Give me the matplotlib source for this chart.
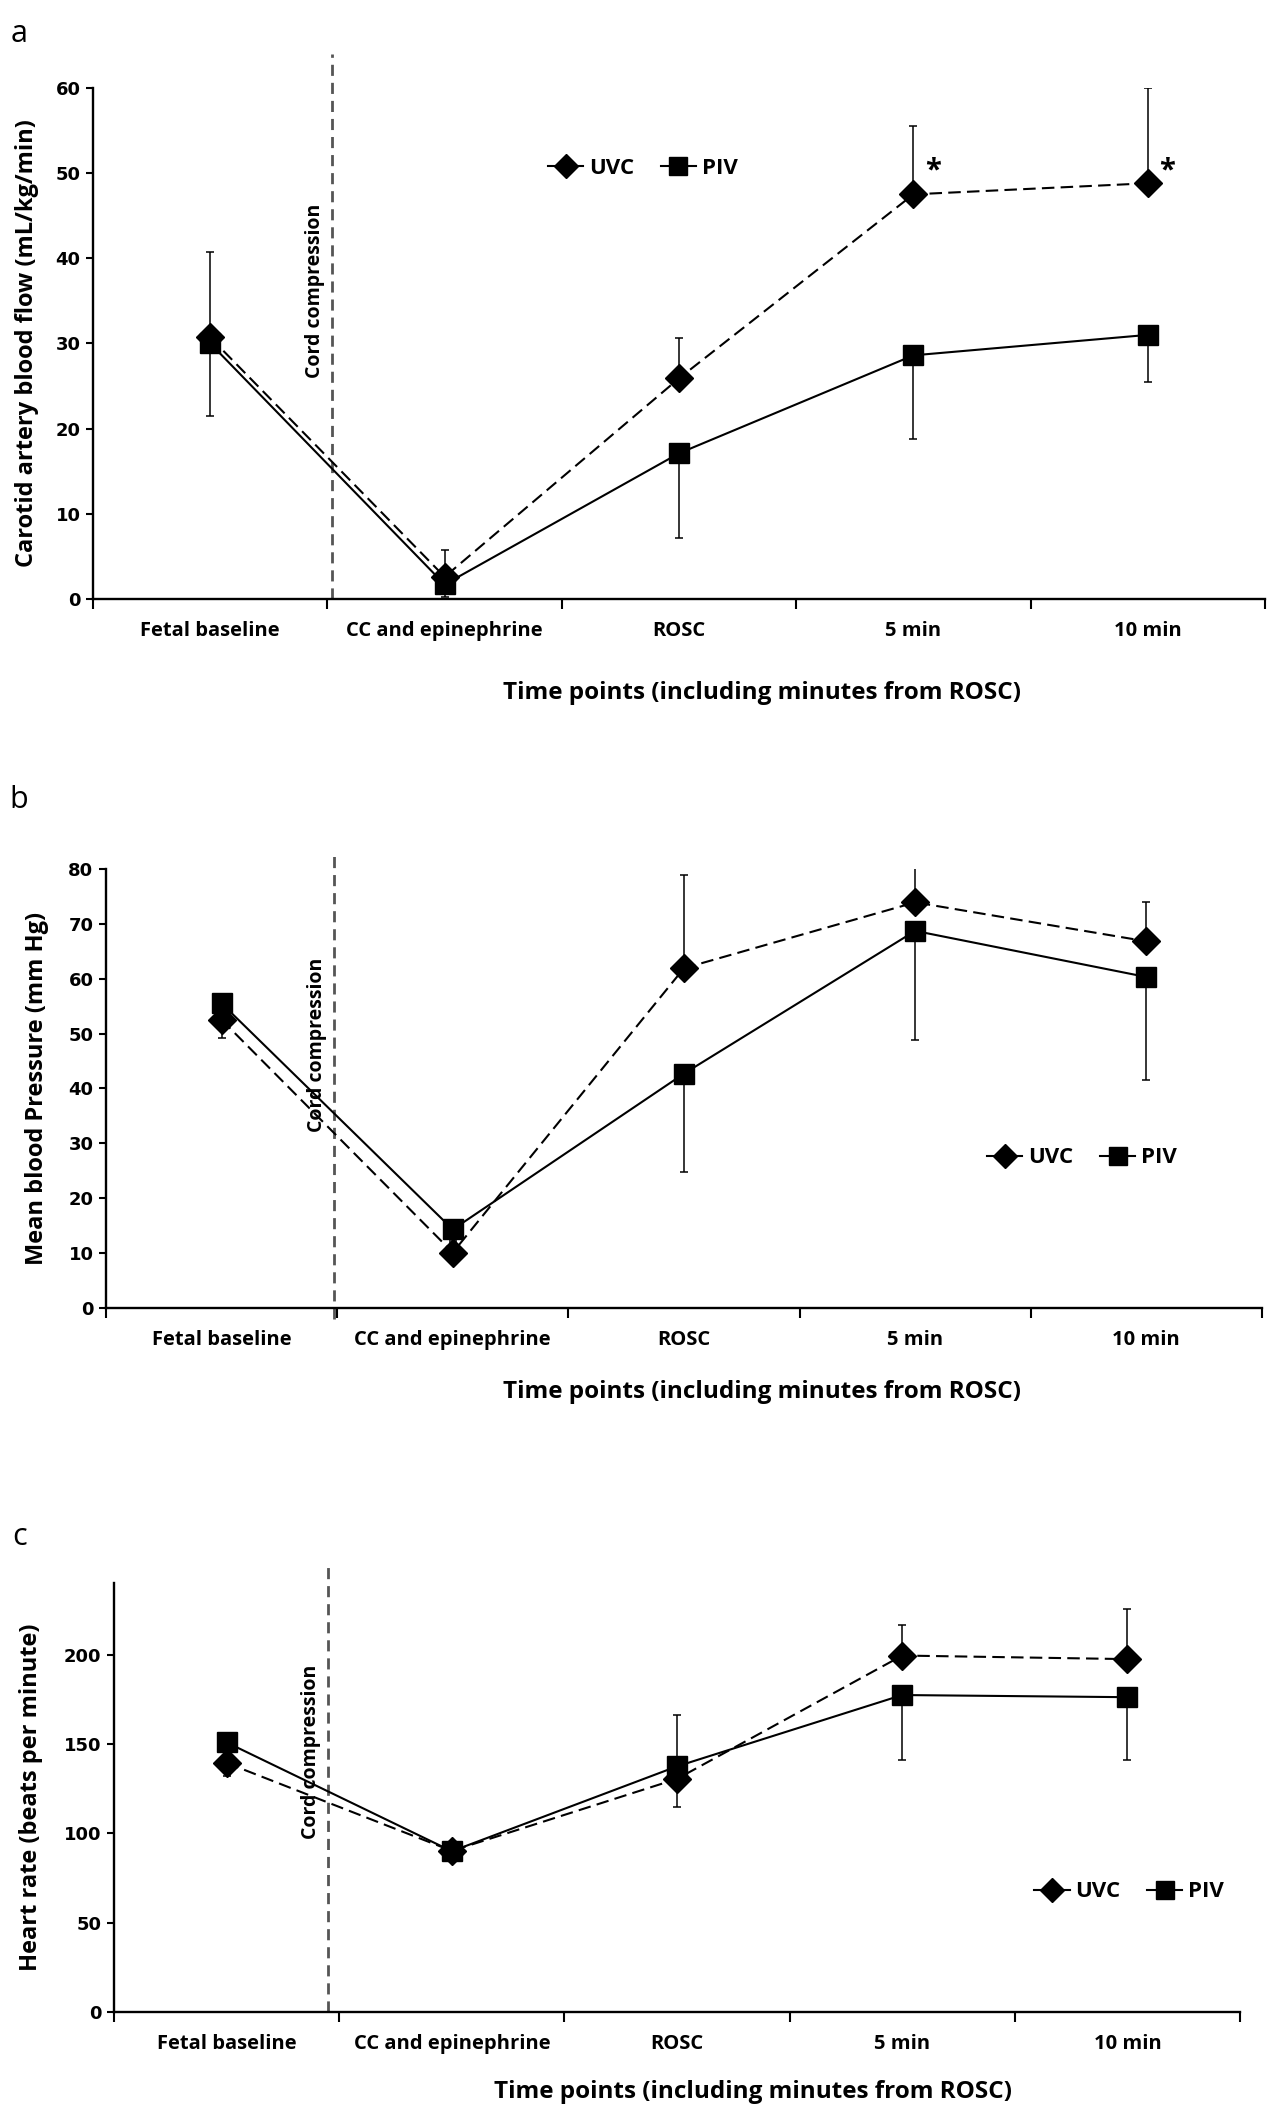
import matplotlib
matplotlib.use("Agg")
import matplotlib.pyplot as plt
from matplotlib.lines import Line2D

plt.rcParams['font.family'] = ['Open Sans', 'DejaVu Sans']

# categories on the x axis
categories = ["Fetal baseline", "CC and epinephrine", "ROSC", "5 min", "10 min"]

# panel a: carotid artery blood flow
uvc_a = [30.7, 2.6, 25.9, 47.5, 48.8]
piv_a = [30.0, 1.7, 17.1, 28.6, 31.0]
uvc_a_up = [10.0, 3.1, 4.7, 8.0, 11.2]
piv_a_down = [8.5, 1.5, 9.9, 9.8, 5.5]
star_idx = [3, 4]
star_y = [50.2, 50.2]

# panel b: mean blood pressure
uvc_b = [52.5, 10.1, 61.9, 73.9, 66.8]
piv_b = [55.5, 14.3, 42.7, 68.7, 60.3]
uvc_b_up = [2.0, 2.0, 16.9, 7.0, 7.1]
piv_b_down = [6.3, 2.0, 17.9, 19.8, 18.8]

# panel c: heart rate
uvc_c = [139.4, 90.2, 130.5, 199.5, 197.5]
piv_c = [150.9, 90.0, 137.5, 177.4, 176.2]
uvc_c_up = [3.0, 3.0, 35.5, 17.2, 27.8]
piv_c_down = [18.9, 3.0, 22.9, 36.3, 35.1]

x = [i + 0.5 for i in range(len(categories))]
DASH = (0, (6, 3))


def draw_panel(fig, rect, uvc, piv, uvc_up, piv_down, ymax, ystep,
               ylabel, ylabel_x, letter, letter_y, xlabel_y, xlabel_x,
               cord_x, cord_span, cord_y, legend_xy, stars=None):
    ax = fig.add_axes(rect)
    zeros = [0] * len(x)

    ax.errorbar(x, uvc, yerr=[zeros, uvc_up], fmt='none', ecolor='black',
                elinewidth=1.1, capsize=3, capthick=1.1, zorder=2)
    ax.errorbar(x, piv, yerr=[piv_down, zeros], fmt='none', ecolor='black',
                elinewidth=1.1, capsize=3, capthick=1.1, zorder=2)
    ax.plot(x, uvc, color='black', linestyle=DASH, linewidth=1.5,
            marker='D', markersize=14, zorder=3)
    ax.plot(x, piv, color='black', linestyle='-', linewidth=1.5,
            marker='s', markersize=15, zorder=4)

    ax.set_xlim(0, len(categories))
    ax.set_ylim(0, ymax)
    ax.set_yticks(range(0, ymax + 1 if ymax % ystep == 0 else ymax, ystep))
    for lab in ax.get_yticklabels():
        lab.set_fontfamily('DejaVu Sans')
        lab.set_fontweight('bold')
        lab.set_fontsize(13)

    ax.set_xticks(range(len(categories) + 1))
    ax.set_xticklabels([])
    ax.set_xticks(x, minor=True)
    ax.set_xticklabels(categories, minor=True, fontsize=14.5, fontweight='bold')
    ax.tick_params(axis='x', which='major', direction='out', length=7, width=1.5)
    ax.tick_params(axis='x', which='minor', length=0, pad=16)
    ax.tick_params(axis='y', direction='out', length=5, width=1.5, pad=4)

    for side in ['top', 'right']:
        ax.spines[side].set_visible(False)
    for side in ['left', 'bottom']:
        ax.spines[side].set_linewidth(1.7)

    # cord compression marker
    ax.axvline(cord_x, ymin=cord_span[0], ymax=cord_span[1], color='#555555',
               linestyle=(0, (4, 2.5)), linewidth=2, clip_on=False, zorder=1)
    ax.text(cord_x - 0.03, cord_y, "Cord compression", rotation=90,
            ha='right', va='center', fontsize=14, fontweight='bold',
            transform=ax.get_xaxis_transform())

    if stars:
        for i, sy in zip(*stars):
            ax.text(x[i] + 0.05, sy, "*", ha='left', va='center',
                    fontsize=21, fontweight='bold')

    handles = [
        Line2D([], [], color='black', linewidth=1.5, marker='D', markersize=12),
        Line2D([], [], color='black', linewidth=1.5, marker='s', markersize=13),
    ]
    ax.legend(handles, ["UVC", "PIV"], loc='center left', bbox_to_anchor=legend_xy,
              ncol=2, frameon=False, handlelength=1.6, handletextpad=0.25,
              columnspacing=1.2, borderpad=0, borderaxespad=0,
              prop={'weight': 'bold', 'size': 16})

    fig.text(ylabel_x, rect[1] + rect[3] / 2, ylabel, rotation=90,
             ha='center', va='center', fontsize=17, fontweight='bold')
    fig.text(xlabel_x, xlabel_y, "Time points (including minutes from ROSC)",
             ha='center', va='center', fontsize=17.5, fontweight='bold')
    fig.text(0.015, letter_y, letter, ha='center', va='center', fontsize=22)
    return ax


fig = plt.figure(figsize=(12.8, 21.12), dpi=100)

draw_panel(fig, [0.0727, 0.7164, 0.9156, 0.2420], uvc_a, piv_a, uvc_a_up, piv_a_down,
           60, 10, "Carotid artery blood flow (mL/kg/min)", 0.021,
           "a", 1 - 34 / 2112, 1 - 693 / 2112, 0.595,
           1.02, (0, 1.067), 0.603, (0.388, 0.842), stars=(star_idx, star_y))

draw_panel(fig, [0.0828, 0.3807, 0.9031, 0.2079], uvc_b, piv_b, uvc_b_up, piv_b_down,
           80, 10, "Mean blood Pressure (mm Hg)", 0.029,
           "b", 1 - 800 / 2112, 1 - 1392 / 2112, 0.595,
           0.987, (-0.025, 1.032), 0.60, (0.762, 0.342))

draw_panel(fig, [0.0891, 0.0473, 0.8797, 0.2031], uvc_c, piv_c, uvc_c_up, piv_c_down,
           240, 50, "Heart rate (beats per minute)", 0.024,
           "c", 1 - 1537 / 2112, 1 - 2092 / 2112, 0.588,
           0.95, (0, 1.042), 0.606, (0.817, 0.28))

fig.savefig("out.png", dpi=100, facecolor='white')
